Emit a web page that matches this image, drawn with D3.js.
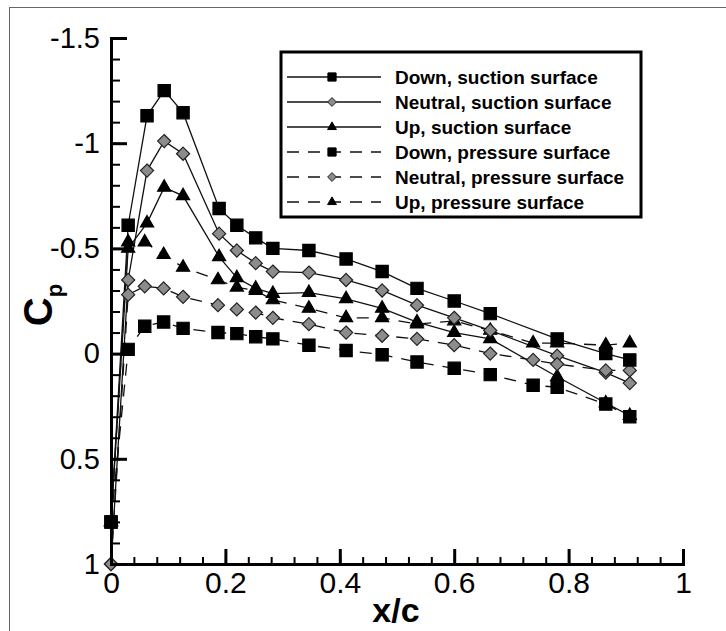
<!DOCTYPE html>
<html>
<head>
<meta charset="utf-8">
<script src="https://cdn.jsdelivr.net/npm/d3@7"></script>
<style>
  body { margin: 0; background: #fff; }
  svg { display: block; font-family: Arial, "Liberation Sans", sans-serif; }
  .line { fill: none; stroke: #111; stroke-width: 1.3; }
  .dashed { stroke-dasharray: 12, 9; }
</style>
</head>
<body>
<svg width="726" height="631"></svg>
<script>
// x/c positions of the pressure taps
const xSuction  = [0, 0.030, 0.063, 0.093, 0.126, 0.189, 0.220, 0.253, 0.283, 0.346, 0.411, 0.474, 0.535, 0.600, 0.663, 0.780, 0.865, 0.907];
const xPressure = [0, 0.030, 0.059, 0.092, 0.126, 0.187, 0.220, 0.253, 0.283, 0.346, 0.411, 0.474, 0.535, 0.600, 0.663, 0.738, 0.780, 0.865, 0.907];

// Cp values
const downSuction    = [0.80, -0.61, -1.13, -1.25, -1.145, -0.69, -0.61, -0.55, -0.50, -0.49, -0.45, -0.39, -0.31, -0.25, -0.19, -0.07, 0.00, 0.03];
const neutralSuction = [1.00, -0.35, -0.87, -1.01, -0.95, -0.57, -0.49, -0.43, -0.39, -0.385, -0.35, -0.30, -0.23, -0.17, -0.11, 0.01, 0.09, 0.14];
const upSuction      = [0.80, -0.50, -0.62, -0.79, -0.75, -0.46, -0.36, -0.31, -0.285, -0.29, -0.26, -0.215, -0.15, -0.10, -0.07, 0.11, 0.235, 0.295];
const downPressure    = [0.80, -0.02, -0.13, -0.15, -0.12, -0.10, -0.095, -0.08, -0.07, -0.04, -0.015, 0.005, 0.04, 0.07, 0.10, 0.15, 0.16, 0.24, 0.30];
const neutralPressure = [1.00, -0.28, -0.32, -0.31, -0.27, -0.23, -0.21, -0.195, -0.17, -0.14, -0.10, -0.085, -0.07, -0.04, 0.00, 0.03, 0.05, 0.08, 0.08];
const upPressure      = [0.80, -0.53, -0.53, -0.47, -0.41, -0.35, -0.315, -0.30, -0.255, -0.215, -0.17, -0.17, -0.14, -0.155, -0.11, -0.05, -0.05, -0.04, -0.05];

const xTicks = [0, 0.2, 0.4, 0.6, 0.8, 1];
const yTicks = [-1.5, -1, -0.5, 0, 0.5, 1];

const series = [
    { label: "Down, suction surface",      x: xSuction,  y: downSuction,     marker: "square",   dashed: false },
    { label: "Neutral, suction surface",   x: xSuction,  y: neutralSuction,  marker: "diamond",  dashed: false },
    { label: "Up, suction surface",        x: xSuction,  y: upSuction,       marker: "triangle", dashed: false },
    { label: "Down, pressure surface",     x: xPressure, y: downPressure,    marker: "square",   dashed: true },
    { label: "Neutral, pressure surface",  x: xPressure, y: neutralPressure, marker: "diamond",  dashed: true },
    { label: "Up, pressure surface",       x: xPressure, y: upPressure,      marker: "triangle", dashed: true }
];

const svg = d3.select("svg");

const x = d3.scaleLinear().domain([0, 1]).range([111, 683]);
const y = d3.scaleLinear().domain([-1.5, 1]).range([38, 564]);

// plain hyphen minus like the original figure
const fmt = d => String(d);

// scanned page frame (left and top edges only)
svg.append("line").attr("x1", 9.5).attr("y1", 7).attr("x2", 9.5).attr("y2", 631)
    .attr("stroke", "#666").attr("stroke-width", 1);
svg.append("line").attr("x1", 9).attr("y1", 7.5).attr("x2", 726).attr("y2", 7.5)
    .attr("stroke", "#666").attr("stroke-width", 1);

// marker shapes
const symbols = {
    square:   { type: d3.symbolSquare,   size: 150, fill: "#000",    stroke: "#000" },
    diamond:  { type: d3.symbolDiamond2, size: 110, fill: "#8c8c8c", stroke: "#222" },
    triangle: { type: d3.symbolTriangle, size: 75,  fill: "#000",    stroke: "#000" }
};

const lineGen = d3.line()
    .x(d => x(d[0]))
    .y(d => y(d[1]));

// lines first, markers on top
const plot = svg.append("g").attr("class", "plot");

series.forEach(s => {
    const pts = s.x.map((v, i) => [v, s.y[i]]);
    plot.append("path")
        .datum(pts)
        .attr("class", s.dashed ? "line dashed" : "line")
        .attr("d", lineGen);
});

// triangles under diamonds under squares
const drawOrder = ["triangle", "diamond", "square"];
drawOrder.forEach(m => {
    series.filter(s => s.marker === m).forEach(s => {
        const pts = s.x.map((v, i) => [v, s.y[i]]);
        const sym = symbols[m];
        plot.append("g")
            .selectAll("path")
            .data(pts)
            .enter().append("path")
            .attr("transform", d => `translate(${x(d[0])},${y(d[1])})`)
            .attr("d", d3.symbol().type(sym.type).size(sym.size))
            .attr("fill", sym.fill)
            .attr("stroke", sym.stroke)
            .attr("stroke-width", 1.2);
    });
});

// x axis (ticks point inward)
const xAxis = svg.append("g")
    .attr("transform", "translate(0,564)")
    .call(d3.axisBottom(x).tickValues(d3.range(0, 1.0001, 0.04)).tickSize(-7).tickFormat(""));
xAxis.selectAll(".tick line").attr("stroke", "#000").attr("stroke-width", 2);
xAxis.select(".domain").attr("stroke", "#000").attr("stroke-width", 3);

const xMajor = svg.append("g")
    .attr("transform", "translate(0,564)")
    .call(d3.axisBottom(x).tickValues(xTicks).tickSize(-15).tickPadding(10).tickFormat(fmt));
xMajor.select(".domain").remove();
xMajor.selectAll(".tick line").attr("stroke", "#000").attr("stroke-width", 3);
xMajor.selectAll(".tick text")
    .attr("y", 29)
    .attr("dy", 0)
    .attr("fill", "#000")
    .style("font-size", "30px")
    .attr("font-family", "Arial, 'Liberation Sans', sans-serif");

// y axis (ticks point inward)
const yAxis = svg.append("g")
    .attr("transform", "translate(111,0)")
    .call(d3.axisLeft(y).tickValues(d3.range(-1.5, 1.0001, 0.1)).tickSize(-9).tickFormat(""));
yAxis.selectAll(".tick line").attr("stroke", "#000").attr("stroke-width", 2);
yAxis.select(".domain").attr("stroke", "#000").attr("stroke-width", 3);

const yMajor = svg.append("g")
    .attr("transform", "translate(111,0)")
    .call(d3.axisLeft(y).tickValues(yTicks).tickSize(-16).tickPadding(11).tickFormat(fmt));
yMajor.select(".domain").remove();
yMajor.selectAll(".tick line").attr("stroke", "#000").attr("stroke-width", 3);
yMajor.selectAll(".tick text")
    .attr("fill", "#000")
    .style("font-size", "29px")
    .attr("font-family", "Arial, 'Liberation Sans', sans-serif");

// axis titles
svg.append("text")
    .attr("x", 396)
    .attr("y", 622)
    .attr("text-anchor", "middle")
    .style("font-size", "34px")
    .style("font-weight", "bold")
    .text("x/c");

const cp = svg.append("text")
    .attr("transform", "translate(52,305) rotate(-90)")
    .attr("text-anchor", "middle")
    .style("font-size", "40px")
    .style("font-weight", "bold");
cp.append("tspan").text("C");
cp.append("tspan").attr("dy", 10).style("font-size", "22px").text("p");

// legend
const legend = svg.append("g").attr("class", "legend");
legend.append("rect")
    .attr("x", 281).attr("y", 52)
    .attr("width", 360).attr("height", 165)
    .attr("fill", "#fff")
    .attr("stroke", "#000")
    .attr("stroke-width", 3);

const rowY = d3.scalePoint().domain(series.map(s => s.label)).range([77, 202]);

const rows = legend.selectAll("g.row")
    .data(series)
    .enter().append("g")
    .attr("class", "row")
    .attr("transform", d => `translate(0,${rowY(d.label)})`);

rows.append("line")
    .attr("x1", 287).attr("x2", 381)
    .attr("class", d => d.dashed ? "line dashed" : "line");

rows.append("path")
    .attr("transform", "translate(332,0)")
    .attr("d", d => d3.symbol().type(symbols[d.marker].type).size(symbols[d.marker].size * 0.45)())
    .attr("fill", d => symbols[d.marker].fill)
    .attr("stroke", d => symbols[d.marker].stroke);

rows.append("text")
    .attr("x", 395)
    .attr("y", 7)
    .style("font-size", "19px")
    .style("font-weight", "bold")
    .text(d => d.label);
</script>
</body>
</html>
